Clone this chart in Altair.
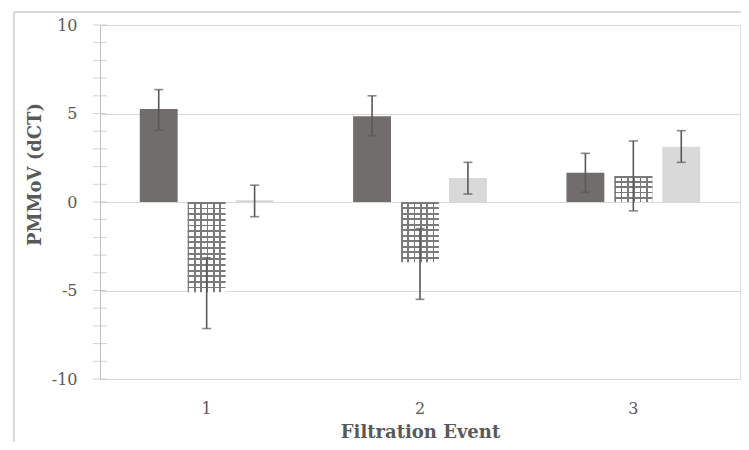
import altair as alt
import pandas as pd

events = ["1", "2", "3"]
series = ["Series 1", "Series 2", "Series 3"]

dark_vals = [5.25, 4.85, 1.65]
dark_lo = [4.05, 3.75, 0.55]
dark_hi = [6.35, 6.0, 2.75]

hatch_vals = [-5.1, -3.4, 1.47]
hatch_lo = [-7.15, -5.5, -0.5]
hatch_hi = [-3.15, -1.5, 3.45]

light_vals = [0.1, 1.35, 3.12]
light_lo = [-0.83, 0.45, 2.24]
light_hi = [0.95, 2.24, 4.03]

y_major = [-10, -5, 0, 5, 10]
y_minor = list(range(-10, 11))

W, H = 640, 354
FONT = "DejaVu Serif"
TXT = "#595959"
AXC = "#bfbfbf"
GRID = "#d9d9d9"
ERR = "#595959"
HATCH = "#7a7a7a"


def frame(name, vals, lo, hi):
    return pd.DataFrame({"event": events, "series": name, "value": vals, "lo": lo, "hi": hi})


dark_df = frame(series[0], dark_vals, dark_lo, dark_hi)
hatch_df = frame(series[1], hatch_vals, hatch_lo, hatch_hi)
light_df = frame(series[2], light_vals, light_lo, light_hi)
all_df = pd.concat([dark_df, hatch_df, light_df], ignore_index=True)

yscale = alt.Scale(domain=[-10, 10], nice=False, zero=False)

x_enc = alt.X(
    "event:N",
    scale=alt.Scale(domain=events, paddingInner=0, paddingOuter=0),
    axis=alt.Axis(
        title="Filtration Event", labelAngle=0, domain=False, ticks=False, grid=False,
        labelPadding=21, labelFont=FONT, labelFontSize=16, labelColor=TXT,
        titleFont=FONT, titleFontSize=18, titleFontWeight="bold", titleColor=TXT,
        titleBaseline="alphabetic", titleY=58, titleX=W / 2,
    ),
)
xo_enc = alt.XOffset(
    "series:N",
    scale=alt.Scale(domain=series, paddingInner=0.21, paddingOuter=0.83),
)
y_axis = alt.Axis(
    values=y_major, title="PMMoV (dCT)", grid=True, gridColor=GRID, gridWidth=1,
    domainColor=AXC, ticks=False, labelPadding=23,
    labelExpr="'' + datum.value",
    labelFont=FONT, labelFontSize=16, labelColor=TXT,
    titleFont=FONT, titleFontSize=18, titleFontWeight="bold", titleColor=TXT,
    titleAngle=-90, titleAlign="center", titleBaseline="middle", titleX=-65, titleY=149,
)


def bars(df, fill):
    return alt.Chart(df).mark_bar(fill=fill, strokeWidth=0).encode(
        x=x_enc, xOffset=xo_enc,
        y=alt.Y("value:Q", scale=yscale, axis=y_axis, stack=None),
    )


def stripes(n, w, line, gap, horizontal):
    stops = []
    for i in range(n):
        a = i / n
        b = a + w
        stops += [
            alt.GradientStop(color=line, offset=a),
            alt.GradientStop(color=line, offset=b),
            alt.GradientStop(color=gap, offset=b),
            alt.GradientStop(color=gap, offset=(i + 1) / n),
        ]
    if horizontal:
        return alt.LinearGradient(gradient="linear", stops=stops, x1=0, x2=0, y1=0, y2=1)
    stops.append(alt.GradientStop(color=line, offset=1 - w))
    stops.append(alt.GradientStop(color=line, offset=1))
    return alt.LinearGradient(gradient="linear", stops=stops, x1=0, x2=1, y1=0, y2=0)


px_per_unit = H / 20.0
layers = []

# outer chart-area frame
layers.append(alt.Chart(all_df).mark_rule(color=GRID, strokeWidth=1).encode(
    x=alt.value(-86), y=alt.value(-13), y2=alt.value(460)))
layers.append(alt.Chart(all_df).mark_rule(color=GRID, strokeWidth=1).encode(
    x=alt.value(-86), x2=alt.value(W + 20), y=alt.value(-13)))

layers.append(bars(dark_df, "#716d6d"))
layers.append(bars(light_df, "#d9d9d9"))

for i, ev in enumerate(events):
    sub = hatch_df[hatch_df["event"] == ev]
    hpx = abs(hatch_vals[i]) * px_per_unit
    n = max(1, round(hpx / 5.6))
    w = min(0.45, 1.8 / hpx)
    layers.append(bars(sub, stripes(n, w, HATCH, "#ffffff", True)))
    layers.append(bars(sub, stripes(6, 0.045, HATCH, "rgba(255,255,255,0)", False)))

# error bars
layers.append(alt.Chart(all_df).mark_rule(color=ERR, strokeWidth=1.6).encode(
    x=x_enc, xOffset=xo_enc,
    y=alt.Y("lo:Q", scale=yscale, axis=y_axis), y2="hi:Q"))
for col in ["lo", "hi"]:
    layers.append(alt.Chart(all_df).mark_tick(
        orient="horizontal", size=9, thickness=1.6, color=ERR).encode(
        x=x_enc, xOffset=xo_enc, y=alt.Y(f"{col}:Q", scale=yscale, axis=y_axis)))

# crossing y-axis ticks
tick_df = pd.DataFrame({"t": y_minor})
layers.append(alt.Chart(tick_df).mark_tick(
    orient="horizontal", size=14, thickness=1, color=AXC).encode(
    y=alt.Y("t:Q", scale=yscale, axis=y_axis), x=alt.value(0)))

chart = alt.layer(*layers).properties(
    width=W, height=H,
    autosize=alt.AutoSizeParams(type="none"),
    padding={"left": 92, "top": 17, "right": 1, "bottom": 63},
).configure_view(stroke=None).configure(background="white")

chart.save("out.html", embed_options={"renderer": "svg", "actions": False})
